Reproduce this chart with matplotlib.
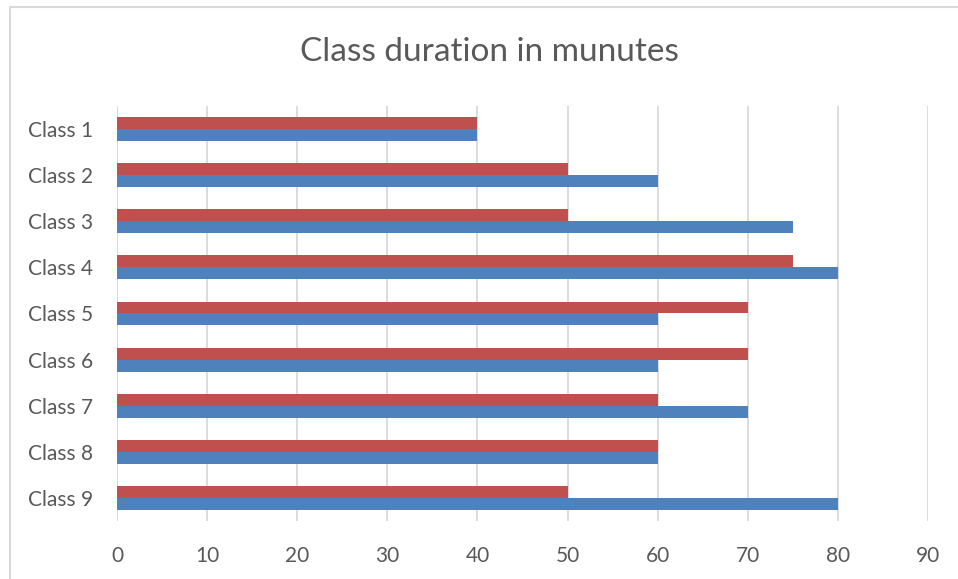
import matplotlib
matplotlib.use("Agg")
import matplotlib.pyplot as plt
from matplotlib.patches import Rectangle
import numpy as np

classes = ["Class 1", "Class 2", "Class 3", "Class 4", "Class 5",
           "Class 6", "Class 7", "Class 8", "Class 9"]
blue_vals = [40, 60, 75, 80, 60, 60, 70, 60, 80]
red_vals = [40, 50, 50, 75, 70, 70, 60, 60, 50]
x_ticks = [0, 10, 20, 30, 40, 50, 60, 70, 80, 90]

BLUE = "#4F81BD"
RED = "#C0504D"
TEXT = "#595959"
GRID = "#D9D9D9"

plt.rcParams["font.family"] = ["Lato", "DejaVu Sans"]

fig = plt.figure(figsize=(9.58, 5.79), dpi=100)
ax = fig.add_axes([0.1221, 0.1002, 0.8466, 0.7167])

y = np.arange(len(classes))
h = 0.26
ax.barh(y - h / 2, red_vals, height=h, color=RED, zorder=3)
ax.barh(y + h / 2, blue_vals, height=h, color=BLUE, zorder=3)

ax.set_xlim(0, 90)
ax.set_ylim(len(classes) - 0.5, -0.5)
ax.set_xticks(x_ticks)
ax.set_yticks(y)
ax.set_yticklabels(classes)
ax.grid(axis="x", color=GRID, linewidth=1.3, zorder=0)
ax.tick_params(length=0, colors=TEXT, labelsize=15)
ax.tick_params(axis="x", pad=18)
ax.tick_params(axis="y", pad=17)
for s in ax.spines.values():
    s.set_visible(False)
ax.axvline(0, color=GRID, linewidth=1.3, zorder=1)

fig.text(0.511, 0.911, "Class duration in munutes", ha="center", va="center",
         fontsize=24, color=TEXT)

# light frame round the chart
fig.patches.append(Rectangle((10 / 958, -0.02), 1.0, 1 - (-0.02) - 7 / 579,
                             transform=fig.transFigure, fill=False,
                             edgecolor="#D9D9D9", linewidth=1.5))

fig.savefig("out.png", dpi=100)
